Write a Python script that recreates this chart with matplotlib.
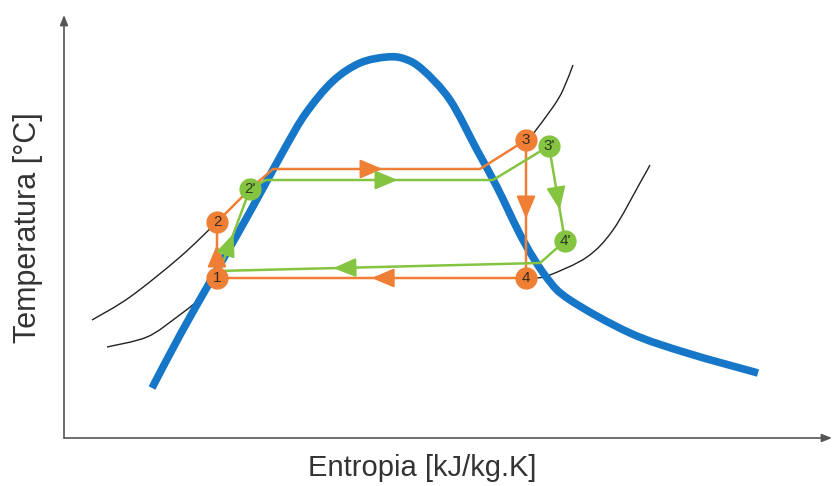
import numpy as np
import matplotlib.pyplot as plt
from matplotlib.path import Path
from matplotlib.patches import PathPatch

plt.rcParams['font.family'] = ['Liberation Sans', 'DejaVu Sans']

# saturation dome (entropy, temperature) in arbitrary units
dome_s = [88, 116, 146, 173, 198, 221, 242, 269, 296, 323, 341, 359, 386, 413, 433, 459, 483, 506, 566, 623, 694]
dome_T = [50, 103, 156, 203, 248, 290, 325, 357, 375, 381, 379, 368, 338, 288, 251, 198, 160, 138, 105, 85, 65]

# isobars (black thin lines)
iso_hi_left_s = [28, 66, 116, 153]
iso_hi_left_T = [118, 141, 181, 216]
iso_hi_right_s = [469, 489, 499, 509]
iso_hi_right_T = [304, 331, 348, 373]
iso_lo_left_s = [43, 83, 113, 131]
iso_lo_left_T = [91, 101, 121, 135]
iso_lo_right_s = [473, 486, 523, 549, 576, 586]
iso_lo_right_T = [160, 163, 181, 208, 255, 273]

# ideal cycle (orange): 1 -> 2 -> 2' -> a -> b -> 3 -> 4 -> 1
orange_s = [153, 153, 186, 209, 416, 462, 462, 153]
orange_T = [160, 216, 249, 269, 269, 298, 160, 160]
orange_labels = ['1', '2', '3', '4']
orange_pts_s = [153, 153, 462, 462]
orange_pts_T = [160, 216, 298, 160]

# real cycle (green): 1 -> 2' -> c -> d -> 3' -> 4' -> e -> 1
green_s = [153, 186, 202, 429, 485, 501, 476, 153]
green_T = [160, 249, 258, 258, 292, 197, 175, 167]
green_labels = ["2'", "3'", "4'"]
green_pts_s = [186, 485, 501]
green_pts_T = [249, 292, 197]

ORANGE = '#f07f36'
GREEN = '#84c441'
BLUE = '#1677c8'

fig = plt.figure(figsize=(8.32, 4.86), dpi=100)
ax = fig.add_axes([0, 0, 1, 1])
ax.set_xlim(-64, 768)
ax.set_ylim(-48, 438)
ax.set_axis_off()


def smooth(xs, ys, color, lw, z):
    # Catmull-Rom through the given points, drawn as cubic Bezier segments
    p = np.column_stack([xs, ys]).astype(float)
    verts = [p[0]]
    codes = [Path.MOVETO]
    for i in range(len(p) - 1):
        p0 = p[i - 1] if i > 0 else p[i]
        p3 = p[i + 2] if i + 2 < len(p) else p[i + 1]
        c1 = p[i] + (p[i + 1] - p0) / 6
        c2 = p[i + 1] - (p3 - p[i]) / 6
        verts += [c1, c2, p[i + 1]]
        codes += [Path.CURVE4] * 3
    ax.add_patch(PathPatch(Path(verts, codes), fill=False, edgecolor=color, lw=lw,
                           capstyle='butt', joinstyle='round', zorder=z))


# axes with arrows
for end in [(0, 423), (768, 0)]:
    ax.annotate('', xy=end, xytext=(0, 0),
                arrowprops=dict(arrowstyle='-|>,head_length=0.5,head_width=0.2', color='#555555', lw=1.2,
                                shrinkA=0, shrinkB=0, mutation_scale=12))

ax.text(358, -30, 'Entropia [kJ/kg.K]', fontsize=21, color='#333333', ha='center', va='center')
ax.text(-36, 210, 'Temperatura [°C]', fontsize=22, color='#333333', ha='center', va='center', rotation=90)

# isobars
for xs, ys in [(iso_hi_left_s, iso_hi_left_T), (iso_hi_right_s, iso_hi_right_T),
               (iso_lo_left_s, iso_lo_left_T), (iso_lo_right_s, iso_lo_right_T)]:
    smooth(xs, ys, '#222222', 1.0, 2)

# dome
smooth(dome_s, dome_T, BLUE, 5.5, 3)

# cycles
ax.plot(orange_s, orange_T, color=ORANGE, lw=1.8, zorder=4)
ax.plot(green_s, green_T, color=GREEN, lw=1.8, zorder=4)


def mid_arrow(xs, ys, i, frac, color):
    x0, y0, x1, y1 = xs[i], ys[i], xs[i + 1], ys[i + 1]
    d = np.hypot(x1 - x0, y1 - y0)
    ux, uy = (x1 - x0) / d, (y1 - y0) / d
    tx, ty = x0 + frac * (x1 - x0), y0 + frac * (y1 - y0)
    ax.annotate('', xy=(tx, ty), xytext=(tx - 16 * ux, ty - 16 * uy),
                arrowprops=dict(arrowstyle='-|>,head_length=1.0,head_width=0.42', color=color, lw=1.5,
                                shrinkA=0, shrinkB=0, mutation_scale=14), zorder=5)


mid_arrow(orange_s, orange_T, 0, 0.6, ORANGE)
mid_arrow(orange_s, orange_T, 3, 0.53, ORANGE)
mid_arrow(orange_s, orange_T, 5, 0.57, ORANGE)
mid_arrow(orange_s, orange_T, 6, 0.5, ORANGE)
mid_arrow(green_s, green_T, 0, 0.5, GREEN)
mid_arrow(green_s, green_T, 2, 0.58, GREEN)
mid_arrow(green_s, green_T, 4, 0.67, GREEN)
mid_arrow(green_s, green_T, 6, 0.64, GREEN)

# state points
for s, T, lab in zip(orange_pts_s, orange_pts_T, orange_labels):
    ax.plot(s, T, 'o', ms=15, color=ORANGE, mec=ORANGE, zorder=6)
    ax.text(s, T, lab, fontsize=11, color='#3a2a20', ha='center', va='center', zorder=7)
for s, T, lab in zip(green_pts_s, green_pts_T, green_labels):
    ax.plot(s, T, 'o', ms=15, color=GREEN, mec=GREEN, zorder=6)
    ax.text(s, T, lab, fontsize=11, color='#2a3a20', ha='center', va='center', zorder=7)

fig.savefig('out.png', dpi=100, facecolor='white')
